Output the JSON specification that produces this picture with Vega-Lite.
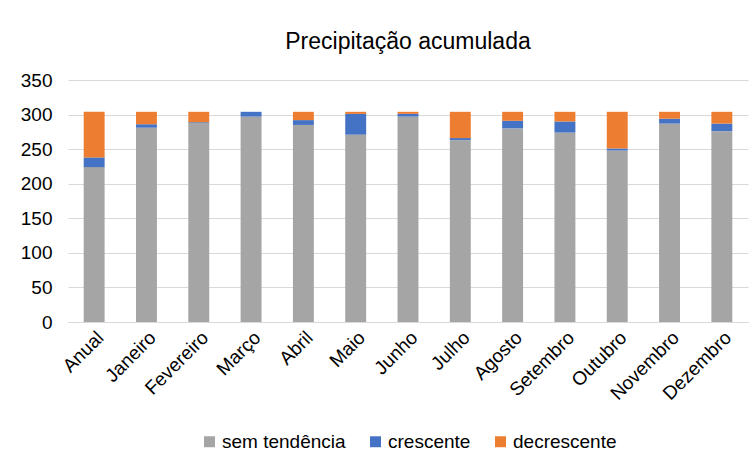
{
  "$schema": "https://vega.github.io/schema/vega-lite/v6.json",
  "width": 680,
  "height": 242,
  "padding": {"left": 20, "top": 31, "right": 5, "bottom": 5},
  "title": {"text": "Precipitação acumulada", "font": "Liberation Sans", "fontSize": 23, "fontWeight": "normal", "color": "#000000", "offset": 17, "anchor": "middle"},
  "data": {"values": [
    {"mes": "Anual", "tipo": "sem tendência", "ord": 1, "valor": 224},
    {"mes": "Anual", "tipo": "crescente", "ord": 2, "valor": 14},
    {"mes": "Anual", "tipo": "decrescente", "ord": 3, "valor": 66},
    {"mes": "Janeiro", "tipo": "sem tendência", "ord": 1, "valor": 281},
    {"mes": "Janeiro", "tipo": "crescente", "ord": 2, "valor": 5},
    {"mes": "Janeiro", "tipo": "decrescente", "ord": 3, "valor": 18},
    {"mes": "Fevereiro", "tipo": "sem tendência", "ord": 1, "valor": 288},
    {"mes": "Fevereiro", "tipo": "crescente", "ord": 2, "valor": 1},
    {"mes": "Fevereiro", "tipo": "decrescente", "ord": 3, "valor": 15},
    {"mes": "Março", "tipo": "sem tendência", "ord": 1, "valor": 297},
    {"mes": "Março", "tipo": "crescente", "ord": 2, "valor": 7},
    {"mes": "Março", "tipo": "decrescente", "ord": 3, "valor": 0},
    {"mes": "Abril", "tipo": "sem tendência", "ord": 1, "valor": 285},
    {"mes": "Abril", "tipo": "crescente", "ord": 2, "valor": 7},
    {"mes": "Abril", "tipo": "decrescente", "ord": 3, "valor": 12},
    {"mes": "Maio", "tipo": "sem tendência", "ord": 1, "valor": 271},
    {"mes": "Maio", "tipo": "crescente", "ord": 2, "valor": 30},
    {"mes": "Maio", "tipo": "decrescente", "ord": 3, "valor": 3},
    {"mes": "Junho", "tipo": "sem tendência", "ord": 1, "valor": 297},
    {"mes": "Junho", "tipo": "crescente", "ord": 2, "valor": 4},
    {"mes": "Junho", "tipo": "decrescente", "ord": 3, "valor": 3},
    {"mes": "Julho", "tipo": "sem tendência", "ord": 1, "valor": 263},
    {"mes": "Julho", "tipo": "crescente", "ord": 2, "valor": 3},
    {"mes": "Julho", "tipo": "decrescente", "ord": 3, "valor": 38},
    {"mes": "Agosto", "tipo": "sem tendência", "ord": 1, "valor": 280},
    {"mes": "Agosto", "tipo": "crescente", "ord": 2, "valor": 11},
    {"mes": "Agosto", "tipo": "decrescente", "ord": 3, "valor": 13},
    {"mes": "Setembro", "tipo": "sem tendência", "ord": 1, "valor": 274},
    {"mes": "Setembro", "tipo": "crescente", "ord": 2, "valor": 16},
    {"mes": "Setembro", "tipo": "decrescente", "ord": 3, "valor": 14},
    {"mes": "Outubro", "tipo": "sem tendência", "ord": 1, "valor": 248},
    {"mes": "Outubro", "tipo": "crescente", "ord": 2, "valor": 3},
    {"mes": "Outubro", "tipo": "decrescente", "ord": 3, "valor": 53},
    {"mes": "Novembro", "tipo": "sem tendência", "ord": 1, "valor": 287},
    {"mes": "Novembro", "tipo": "crescente", "ord": 2, "valor": 7},
    {"mes": "Novembro", "tipo": "decrescente", "ord": 3, "valor": 10},
    {"mes": "Dezembro", "tipo": "sem tendência", "ord": 1, "valor": 276},
    {"mes": "Dezembro", "tipo": "crescente", "ord": 2, "valor": 11},
    {"mes": "Dezembro", "tipo": "decrescente", "ord": 3, "valor": 17}
  ]},
  "mark": {"type": "bar"},
  "encoding": {
    "x": {"field": "mes", "type": "nominal", "sort": null, "title": null,
      "scale": {"paddingInner": 0.6, "paddingOuter": 0.3},
      "axis": {"labelAngle": -45, "labelFont": "Liberation Sans", "labelFontSize": 19, "labelColor": "#000000", "ticks": false, "domainColor": "#d9d9d9", "labelPadding": 6}},
    "y": {"field": "valor", "type": "quantitative", "stack": "zero", "title": null,
      "scale": {"domain": [0, 350], "nice": false},
      "axis": {"values": [0, 50, 100, 150, 200, 250, 300, 350], "labelFont": "Liberation Sans", "labelFontSize": 19, "labelColor": "#000000", "ticks": false, "domain": false, "gridColor": "#d9d9d9", "labelPadding": 16}},
    "color": {"field": "tipo", "type": "nominal", "title": null,
      "scale": {"domain": ["sem tendência", "crescente", "decrescente"], "range": ["#a5a5a5", "#4472c4", "#ed7d31"]},
      "legend": {"orient": "bottom", "direction": "horizontal", "symbolType": "square", "labelFont": "Liberation Sans", "labelFontSize": 19, "labelColor": "#000000", "symbolSize": 120, "symbolStrokeWidth": 0, "columnPadding": 20, "labelOffset": 3, "offset": 28}},
    "order": {"field": "ord", "type": "quantitative"}
  },
  "config": {"view": {"stroke": null}, "background": "#ffffff", "legend": {"layout": {"bottom": {"anchor": "middle"}}}}
}
